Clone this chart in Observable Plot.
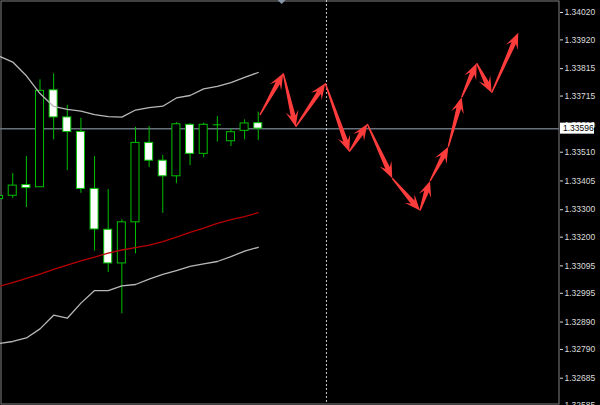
<!DOCTYPE html>
<html><head><meta charset="utf-8">
<script src="https://cdn.jsdelivr.net/npm/d3@7"></script>
<script src="https://cdn.jsdelivr.net/npm/@observablehq/plot@0.6"></script>
<style>html,body{margin:0;padding:0;background:#000;overflow:hidden}</style>
</head><body><div id="chart"></div>
<script>
// Candles (bar index 0..19)
const bars  = d3.range(20);
const open  = [1.33339,1.33351,1.33390,1.33382,1.33736,1.33637,1.33584,1.33376,1.33227,1.33104,1.33254,1.33544,1.33479,1.33422,1.33610,1.33504,1.33610,1.33550,1.33588,1.33616];
const close = [1.33350,1.33388,1.33379,1.33734,1.33637,1.33584,1.33376,1.33228,1.33104,1.33254,1.33544,1.33479,1.33422,1.33612,1.33504,1.33610,1.33610,1.33583,1.33615,1.33596];
const high  = [1.33359,1.33432,1.33494,1.33774,1.33796,1.33681,1.33634,1.33494,1.33374,1.33263,1.33601,1.33604,1.33498,1.33618,1.33614,1.33616,1.33640,1.33595,1.33628,1.33656];
const low   = [1.33334,1.33341,1.33308,1.33382,1.33555,1.33443,1.33360,1.33149,1.33071,1.32920,1.33139,1.33454,1.33287,1.33395,1.33461,1.33490,1.33547,1.33531,1.33555,1.33553];
// Bollinger bands and moving average
const upper  = [1.33861,1.33839,1.33789,1.33724,1.33677,1.33666,1.33660,1.33647,1.33640,1.33638,1.33664,1.33673,1.33678,1.33708,1.33717,1.33741,1.33750,1.33764,1.33783,1.33801];
const middle = [1.33020,1.33034,1.33049,1.33065,1.33082,1.33098,1.33113,1.33127,1.33142,1.33153,1.33162,1.33171,1.33184,1.33200,1.33217,1.33233,1.33250,1.33264,1.33275,1.33289];
const lower  = [1.32812,1.32819,1.32832,1.32865,1.32915,1.32904,1.32959,1.33005,1.33005,1.33022,1.33027,1.33047,1.33064,1.33078,1.33093,1.33102,1.33111,1.33129,1.33149,1.33163];
// Forecast zigzag (arrows)
const pathX = [19.16,20.87,21.78,23.95,25.71,27.03,28.86,30.89,31.63,32.97,33.95,35.05,36.15,38.10];
const pathY = [1.33644,1.33796,1.33601,1.33760,1.33510,1.33611,1.33413,1.33295,1.33403,1.33528,1.33709,1.33833,1.33725,1.33944];
// Axis
const priceTicks = [1.34020,1.33920,1.33815,1.33715,1.33610,1.33510,1.33405,1.33300,1.33200,1.33095,1.32995,1.32890,1.32790,1.32685,1.32585];
const separators = [24];
const shiftMarker = [20.75];
const lastPrice = close[close.length - 1];

const candles = bars.map(i => ({i, o: open[i], c: close[i], h: high[i], l: low[i]}));
const bands = bars.map(i => ({i, u: upper[i], m: middle[i], d: lower[i]}));
const GREEN = "#00c000";
const fmt = d3.format(".5f");

function arrowsMark(index, scales) {
  const g = d3.create("svg:g");
  for (let k = 0; k < pathX.length - 1; k++) {
    const x0 = scales.x(pathX[k]), y0 = scales.y(pathY[k]);
    const x1 = scales.x(pathX[k+1]), y1 = scales.y(pathY[k+1]);
    const dx = x1 - x0, dy = y1 - y0, L = Math.hypot(dx, dy);
    const ux = dx / L, uy = dy / L, nx = -uy, ny = ux;
    const h = Math.min(16, L * 0.5), w = 6.5, s = 2.4;
    const pt = (a, b) => [x0 + ux*a + nx*b, y0 + uy*a + ny*b];
    const pts = [pt(0, 0.7), pt(L - h*0.7, s), pt(L - h, w), pt(L, 0), pt(L - h, -w), pt(L - h*0.7, -s), pt(0, -0.7)];
    g.append("path").attr("d", "M" + pts.map(p => p.join(",")).join("L") + "Z").attr("fill", "#ff3c3c");
  }
  return g.node();
}

function priceBox(index, scales, values, dims) {
  const g = d3.create("svg:g");
  const y = scales.y(lastPrice), x = dims.width - dims.marginRight + 1;
  g.append("rect").attr("x", x).attr("y", y - 5.5).attr("width", 34).attr("height", 11).attr("fill", "#fff");
  g.append("text").attr("x", x + 3).attr("y", y).attr("dy", "0.35em").attr("fill", "#000")
    .attr("text-anchor", "start")
    .attr("font-size", 8.5).attr("font-family", "Liberation Sans, Arial, sans-serif").text(fmt(lastPrice));
  return g.node();
}

function shiftMark(index, scales, values, dims) {
  const g = d3.create("svg:g");
  for (const v of shiftMarker) {
    const x = scales.x(v), y = dims.marginTop;
    g.append("path").attr("d", `M${x-4},${y}L${x+4},${y}L${x},${y+4}Z`).attr("fill", "#8796a6");
  }
  return g.node();
}

const chart = Plot.plot({
  width: 600, height: 405,
  marginLeft: 0, marginRight: 41, marginTop: 0, marginBottom: 1,
  style: {background: "#000", color: "#dcdcdc", fontSize: "8.5px", fontFamily: "Liberation Sans, Arial, sans-serif"},
  x: {domain: [0.103, 41.085], axis: null},
  y: {domain: [1.325890, 1.340638], axis: null},
  marks: [
    Plot.frame({stroke: "#808080", inset: 0.5}),
    Plot.ruleY([lastPrice], {stroke: "#66717d", strokeWidth: 1.5}),
    Plot.ruleX(separators, {stroke: "#c8c8c8", strokeDasharray: "2,2"}),
    Plot.ruleX(candles, {x: "i", y1: "l", y2: "h", stroke: GREEN}),
    Plot.rect(candles.filter(d => d.o !== d.c), {x1: d => d.i - 0.5, x2: d => d.i + 0.5, y1: "o", y2: "c",
      insetLeft: 2.8, insetRight: 2.8, stroke: GREEN, fill: d => d.c > d.o ? "#000" : "#fff"}),
    Plot.ruleY(candles.filter(d => d.o === d.c), {y: "o", x1: d => d.i - 0.5, x2: d => d.i + 0.5,
      insetLeft: 2.8, insetRight: 2.8, stroke: GREEN}),
    Plot.line(bands, {x: "i", y: "u", stroke: "#b8b8b8", strokeWidth: 1.3}),
    Plot.line(bands, {x: "i", y: "d", stroke: "#b8b8b8", strokeWidth: 1.3}),
    Plot.line(bands, {x: "i", y: "m", stroke: "#b80000", strokeWidth: 1.3}),
    arrowsMark,
    Plot.axisY(priceTicks, {anchor: "right", tickSize: 3, tickPadding: 2, tickFormat: fmt, label: null}),
    priceBox,
    shiftMark
  ]
});
document.getElementById("chart").append(chart);
</script>
</body></html>
